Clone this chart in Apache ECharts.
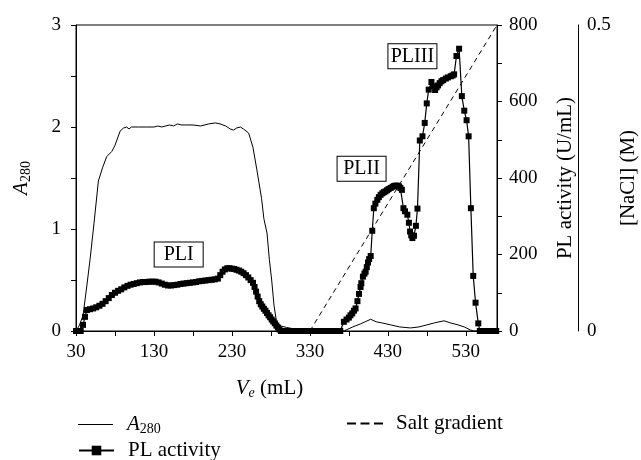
<!DOCTYPE html>
<html>
<head>
<meta charset="utf-8">
<script src="https://cdn.jsdelivr.net/npm/echarts@6/dist/echarts.min.js"></script>
<style>html,body{margin:0;padding:0;background:#fff}#c{width:641px;height:460px}</style>
</head>
<body>
<div id="c"></div>
<script>
// ---- data ----
const a280X = [30,34,39,44,48,53,58.7,64,69.4,75.9,80,86.6,91,95,98,101,110,120,130,135,140,150,155,160,165,170,180,190,200,208.7,215,222,228,232,236,240.8,245,251.5,257,262,268,271,275,278,281,284,287,292,300,310,320,340,360,373.6,385,395,408,415,422,433.6,445,459,470,480,490,502,510,520,528,536,540,570];
const a280Y = [0,0.05,0.15,0.45,0.7,1.05,1.47,1.6,1.71,1.76,1.82,1.96,1.99,2.0,1.98,2.0,2.0,2.0,2.0,2.01,2.0,2.02,2.01,2.03,2.02,2.02,2.02,2.01,2.03,2.04,2.03,2.01,1.98,1.97,1.99,2.0,1.98,1.94,1.8,1.58,1.3,1.1,0.96,0.7,0.5,0.25,0.1,0.05,0.035,0.02,0.005,0,0,0,0.04,0.07,0.115,0.09,0.08,0.06,0.04,0.03,0.04,0.06,0.08,0.1,0.08,0.06,0.04,0.01,0,0];

const plX = [30,32,34,36,39,41.5,44,48,52,56,60,64,68,72,76,80,84,88,92,96,100,104,108,112,116,120,124,128,132,136,140,144,148,152,156,160,164,168,172,176,180,184,188,192,196,200,204,208,212,215,218,221,224,227,230,233,236,239,242,245,248,251,254,257,259,261,263,265,267,269,271,273,275,277,279,281,283,285,287,289,291,293,297,301,305,309,313,317,321,325,329,333,337,341,345,349,353,357,361,365,369,373.6,377,380,382,384.3,386.5,388.6,391,393,395,396,398,400,401.5,403,404.5,406,408,410,412,414,416.5,418.5,420.7,423,425,427,429,431,433.6,436,438,440,442,444.4,446,448,450,452,455,457,458.5,460,461.5,463.5,466,468,471,474.4,477.3,479.9,482.4,485.9,488,490.6,492.5,494.4,496.5,498.8,501,504.4,507,510.7,513,515,518,521.4,524.9,528,531,533.6,536.5,539.5,542.5,546,548,551,554,557,560,563,566,569];
const plY = [0,0,0,0,16,37,55,57,59,62,66,71,78,86,94,100,105,109,114,118,121,123,125,127,128,128,129,129,129,127,124,121,119,119,120,121,123,124,125,126,127,128,130,131,132,133,134,135,137,146,155,161,164,164,163,162,160,158,155,151,146,140,133,126,115,103,90,78,70,64,58,53,47,41,36,30,25,20,14,9,4,0,0,0,0,0,0,0,0,0,0,0,0,0,0,0,0,0,0,0,0,24,30,35,41,46,53,59,78,97,115,125,142,150,155,167,179,188,196,262,321,333,343,350,356,360,363,365,368,371,374,377,379,380,380,378,374,369,321,313,304,283,260,250,243,249,275,320,498,509,544,595,631,651,640,630,637,642,648,653,656,660,663,666,668,671,719,738,614,576,551,509,321,144,74,20,0,0,0,0,0,0,0,0];

const saltX = [330, 570];
const saltY = [0, 0.5];

const peakNames = ['PLI', 'PLII', 'PLIII'];
const peakX = [161.7, 396.3, 461.5];
const peakY = [200, 424, 718];

const xTickLabels = [30, 130, 230, 330, 430, 530];

// ---- chart ----
const FONT = 'Liberation Serif';
const zip = (xs, ys) => xs.map((x, i) => [x, ys[i]]);
const chart = echarts.init(document.getElementById('c'));
const num = {color: '#000', fontFamily: FONT, fontSize: 19};
const txt = {color: '#000', fontFamily: FONT, fontSize: 21};
const rich = {
  i: {fontFamily: FONT, fontSize: 21, fontStyle: 'italic', color: '#000'},
  n: {fontFamily: FONT, fontSize: 21, color: '#000'},
  sub: {fontFamily: FONT, fontSize: 14, color: '#000', verticalAlign: 'bottom', padding: [10, 0, 0, 0]},
  subi: {fontFamily: FONT, fontSize: 14, fontStyle: 'italic', color: '#000', verticalAlign: 'bottom', padding: [10, 0, 0, 0]}
};
const axLine = {show: true, lineStyle: {color: '#000', width: 1}};
const dashIcon = 'path://M0,0h9v2h-9z M13.5,0h9v2h-9z M27,0h9v2h-9z';

chart.setOption({
  animation: false,
  backgroundColor: '#fff',
  grid: {left: 76, right: 144, top: 25, bottom: 129, containLabel: false, outerBoundsMode: 'none',
    show: true, borderColor: '#000', borderWidth: 1},
  xAxis: {
    type: 'value', min: 30, max: 570, interval: 50,
    name: '{i|V}{subi|e}{n| (mL)}', nameLocation: 'middle', nameGap: 45,
    nameTextStyle: {rich: rich, padding: [0, 34, 0, 0]},
    axisLine: axLine,
    axisTick: {show: true, inside: false, length: 5, lineStyle: {color: '#000'}},
    axisLabel: Object.assign({margin: 12, showMaxLabel: false,
      formatter: v => xTickLabels.indexOf(v) >= 0 ? String(v) : ''}, num),
    splitLine: {show: false}
  },
  yAxis: [
    {
      type: 'value', min: 0, max: 3, interval: 0.5, position: 'left',
      name: '{i|A}{sub|280}', nameLocation: 'middle', nameGap: 43,
      nameTextStyle: {rich: rich},
      axisLine: axLine,
      axisTick: {show: true, length: 5, lineStyle: {color: '#000'}},
      axisLabel: Object.assign({margin: 15, formatter: v => Number.isInteger(v) ? String(v) : ''}, num),
      splitLine: {show: false}
    },
    {
      type: 'value', min: 0, max: 800, interval: 100, position: 'right',
      name: 'PL activity (U/mL)', nameLocation: 'middle', nameGap: 58,
      nameTextStyle: txt,
      axisLine: axLine,
      axisTick: {show: true, length: 5, lineStyle: {color: '#000'}},
      axisLabel: Object.assign({margin: 12, formatter: v => v % 200 === 0 ? String(v) : ''}, num),
      splitLine: {show: false}
    },
    {
      type: 'value', min: 0, max: 0.5, interval: 0.5, position: 'right', offset: 81,
      name: '[NaCl] (M)', nameLocation: 'middle', nameGap: 40, nameMoveOverlap: false,
      nameTextStyle: txt,
      axisLine: axLine,
      axisTick: {show: false},
      axisLabel: Object.assign({margin: 9, formatter: v => String(v)}, num),
      splitLine: {show: false}
    }
  ],
  legend: [
    {
      left: 78, top: 414, padding: 0, itemWidth: 35, itemHeight: 1,
      data: [{name: 'A280', icon: 'rect'}],
      formatter: () => '{i|A}{sub|280}',
      textStyle: {rich: rich, padding: [0, 0, 0, 9]}
    },
    {
      left: 78, top: 440, padding: 0, itemWidth: 35, itemHeight: 12,
      data: ['PL activity'],
      textStyle: Object.assign({padding: [0, 0, 0, 9]}, txt)
    },
    {
      left: 347, top: 413, padding: 0, itemWidth: 36, itemHeight: 2,
      data: [{name: 'Salt gradient', icon: dashIcon}],
      textStyle: Object.assign({padding: [0, 0, 0, 8]}, txt)
    }
  ],
  series: [
    {
      name: 'A280', type: 'line', xAxisIndex: 0, yAxisIndex: 0,
      data: zip(a280X, a280Y), showSymbol: false, symbol: 'none',
      lineStyle: {color: '#000', width: 1}, itemStyle: {color: '#000'}
    },
    {
      name: 'Salt gradient', type: 'line', xAxisIndex: 0, yAxisIndex: 2,
      data: zip(saltX, saltY), symbol: 'none',
      lineStyle: {color: '#000', width: 1, type: [5, 4]}, itemStyle: {color: '#000'}
    },
    {
      name: 'PL activity', type: 'line', xAxisIndex: 0, yAxisIndex: 1,
      data: zip(plX, plY), symbol: 'rect', symbolSize: 6, showAllSymbol: true,
      lineStyle: {color: '#000', width: 1.2}, itemStyle: {color: '#000'},
      markPoint: {
        symbol: 'rect', symbolSize: 1, itemStyle: {color: 'rgba(0,0,0,0)'},
        label: {show: true, position: 'inside', formatter: p => p.name,
          color: '#000', fontFamily: FONT, fontSize: 20, width: 40, align: 'center', overflow: 'none',
          backgroundColor: '#fff', borderColor: '#000', borderWidth: 1, padding: [3, 4, 1, 4]},
        data: peakNames.map((n, i) => ({name: n, coord: [peakX[i], peakY[i]]}))
      }
    }
  ]
});
</script>
</body>
</html>
